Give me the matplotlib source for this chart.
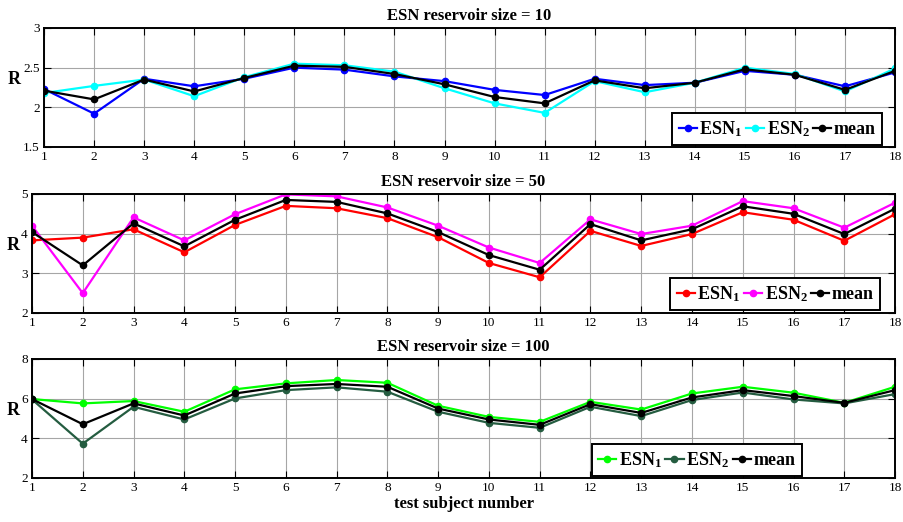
import matplotlib
matplotlib.use("Agg")
import matplotlib.pyplot as plt

plt.rcParams["font.family"] = ["Liberation Serif", "DejaVu Serif"]
plt.rcParams["mathtext.fontset"] = "custom"
plt.rcParams["mathtext.rm"] = "Liberation Serif:bold"
plt.rcParams["mathtext.it"] = "Liberation Serif:bold"
plt.rcParams["mathtext.bf"] = "Liberation Serif:bold"

subjects = list(range(1, 19))

# reservoir size = 10
esn1_10 = [2.23, 1.92, 2.36, 2.265, 2.36, 2.50, 2.475, 2.39, 2.33, 2.22, 2.155, 2.36, 2.28, 2.31, 2.46, 2.41, 2.265, 2.44]
esn2_10 = [2.18, 2.27, 2.35, 2.14, 2.38, 2.55, 2.53, 2.45, 2.24, 2.05, 1.93, 2.33, 2.19, 2.31, 2.50, 2.42, 2.20, 2.49]
mean_10 = [2.21, 2.10, 2.35, 2.20, 2.37, 2.525, 2.51, 2.42, 2.29, 2.13, 2.05, 2.34, 2.24, 2.31, 2.48, 2.41, 2.22, 2.46]

# reservoir size = 50
esn1_50 = [3.83, 3.90, 4.11, 3.53, 4.22, 4.70, 4.64, 4.39, 3.91, 3.26, 2.90, 4.07, 3.69, 3.99, 4.54, 4.35, 3.82, 4.49]
esn2_50 = [4.20, 2.50, 4.41, 3.83, 4.49, 4.99, 4.94, 4.66, 4.20, 3.65, 3.26, 4.36, 3.99, 4.20, 4.82, 4.64, 4.15, 4.78]
mean_50 = [4.04, 3.20, 4.26, 3.68, 4.35, 4.85, 4.80, 4.51, 4.04, 3.46, 3.09, 4.24, 3.83, 4.11, 4.69, 4.50, 3.99, 4.63]

# reservoir size = 100
esn1_100 = [5.98, 5.76, 5.88, 5.34, 6.47, 6.77, 6.94, 6.80, 5.64, 5.08, 4.83, 5.84, 5.45, 6.26, 6.60, 6.30, 5.79, 6.60]
esn2_100 = [5.96, 3.73, 5.59, 4.95, 6.01, 6.43, 6.57, 6.35, 5.34, 4.78, 4.53, 5.59, 5.12, 5.93, 6.31, 5.96, 5.76, 6.23]
mean_100 = [5.98, 4.71, 5.76, 5.15, 6.26, 6.63, 6.74, 6.60, 5.50, 4.95, 4.68, 5.72, 5.28, 6.06, 6.43, 6.13, 5.79, 6.43]

panels = [
    ("ESN reservoir size = 10", esn1_10, esn2_10, mean_10, "#0000ff", "#00ffff",
     (1.5, 3), [1.5, 2, 2.5, 3], ["1.5", "2", "2.5", "3"],
     [0.0487, 0.7184, 0.9414, 0.228], -0.035, (0.985, 0.017)),
    ("ESN reservoir size = 50", esn1_50, esn2_50, mean_50, "#ff0000", "#ff00ff",
     (2, 5), [2, 3, 4, 5], ["2", "3", "4", "5"],
     [0.0354, 0.4004, 0.9547, 0.228], -0.022, (0.983, 0.025)),
    ("ESN reservoir size = 100", esn1_100, esn2_100, mean_100, "#00ff00", "#245c40",
     (2, 8), [2, 4, 6, 8], ["2", "4", "6", "8"],
     [0.0354, 0.0843, 0.9547, 0.228], -0.022, (0.892, 0.017)),
]

fig = plt.figure(figsize=(9.04, 5.22), dpi=100)

for i, (title, e1, e2, mn, c1, c2, ylim, yt, ytl, pos, rx, lpos) in enumerate(panels):
    ax = fig.add_axes(pos)
    ax.plot(subjects, e1, "-o", color=c1, lw=1.6, ms=4.5, label="ESN$_1$")
    ax.plot(subjects, e2, "-o", color=c2, lw=1.6, ms=4.5, label="ESN$_2$")
    ax.plot(subjects, mn, "-o", color="black", lw=1.6, ms=4.5, label="mean")
    ax.set_xlim(1, 18)
    ax.set_ylim(*ylim)
    ax.set_xticks(subjects)
    ax.set_xticklabels([str(s) for s in subjects])
    ax.set_yticks(yt)
    ax.set_yticklabels(ytl)
    ax.grid(True, color="0.65", lw=0.8)
    ax.tick_params(direction="in", top=True, right=True, labelsize=9.5, pad=3, length=5)
    for sp in ax.spines.values():
        sp.set_linewidth(1.4)
    ax.set_title(title, fontsize=12, fontweight="bold", pad=6)
    ax.set_ylabel("R", fontsize=13, fontweight="bold", rotation=0, va="center")
    ax.yaxis.set_label_coords(rx, 0.57)
    leg = ax.legend(loc="lower right", bbox_to_anchor=lpos, borderaxespad=0, ncol=3,
                    fancybox=False, edgecolor="black", framealpha=1,
                    prop={"weight": "bold", "size": 13}, handlelength=1.0,
                    handletextpad=0.15, columnspacing=0.2, borderpad=0.35)
    leg.get_frame().set_linewidth(1.4)
    if i == 2:
        ax.set_xlabel("test subject number", fontsize=12, fontweight="bold", labelpad=1)

fig.savefig("out.png", dpi=100)
